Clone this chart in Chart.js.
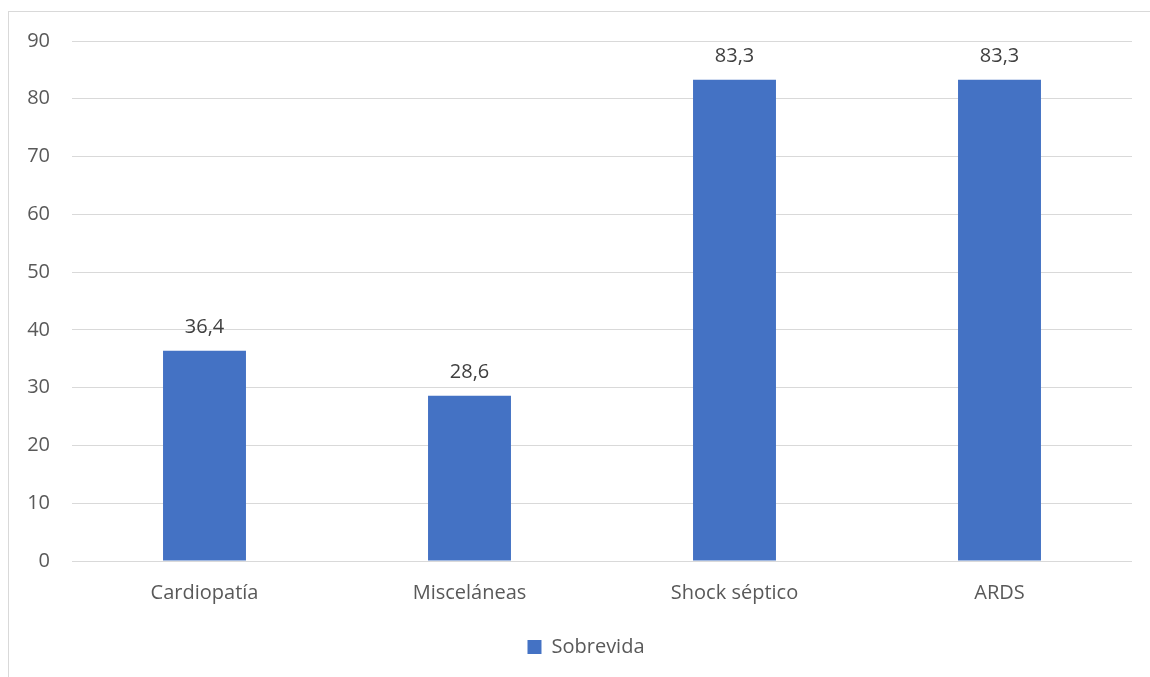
<!DOCTYPE html>
<html>
<head>
<meta charset="utf-8">
<script src="https://cdn.jsdelivr.net/npm/chart.js@4/dist/chart.umd.min.js"></script>
<style>
  html, body { margin: 0; padding: 0; background: #fff; }
  #wrap { position: relative; width: 1150px; height: 677px; overflow: hidden; }
  #frame { position: absolute; left: 8px; top: 11px; width: 1200px; height: 800px;
           border-left: 1px solid #d9d9d9; border-top: 1px solid #d9d9d9; }
  canvas { position: absolute; left: 0; top: 0; }
</style>
</head>
<body>
<div id="wrap">
  <div id="frame"></div>
  <canvas id="grafico" width="1150" height="677"></canvas>
</div>
<script>
const categorias = ["Cardiopatía", "Misceláneas", "Shock séptico", "ARDS"];
const sobrevida = [36.4, 28.6, 83.3, 83.3];
const serieNome = "Sobrevida";
const yMin = 0, yMax = 90, yPasso = 10;

const fonte = "'Open Sans', 'DejaVu Sans', sans-serif";

// rótulos com o valor em cima de cada barra
const rotulosBarras = {
  id: "rotulosBarras",
  afterLayout(chart) {
    // empurra a legenda um pouco pra direita
    chart.legend.left += 20;
    chart.legend.right += 20;
  },
  afterDatasetsDraw(chart) {
    const ctx = chart.ctx;
    ctx.save();
    ctx.font = "20px " + fonte;
    ctx.fillStyle = "#404040";
    ctx.textAlign = "center";
    ctx.textBaseline = "alphabetic";
    chart.getDatasetMeta(0).data.forEach((bar, i) => {
      const txt = sobrevida[i].toFixed(1).replace(".", ",");
      ctx.fillText(txt, bar.x, bar.y - 18);
    });
    ctx.restore();
  }
};

const ctx = document.getElementById("grafico").getContext("2d");
new Chart(ctx, {
  type: "bar",
  data: {
    labels: categorias,
    datasets: [{
      label: serieNome,
      data: sobrevida,
      backgroundColor: "#4472C4",
      borderWidth: 0,
      categoryPercentage: 1,
      barPercentage: 0.313
    }]
  },
  options: {
    responsive: false,
    animation: false,
    layout: { padding: { left: 0, right: 18, top: 41, bottom: 10 } },
    plugins: {
      tooltip: { enabled: false },
      legend: {
        position: "bottom",
        labels: {
          font: { family: fonte, size: 20 },
          color: "#595959",
          boxWidth: 14,
          boxHeight: 14,
          padding: 6
        }
      }
    },
    scales: {
      x: {
        grid: { display: false, drawTicks: false },
        border: { display: false },
        ticks: { font: { family: fonte, size: 20 }, color: "#595959", padding: 20 },
        afterFit(scale) { scale.height = 70; }
      },
      y: {
        min: yMin,
        max: yMax,
        grid: { color: "#d9d9d9", lineWidth: 1, drawTicks: false },
        border: { display: false },
        ticks: { stepSize: yPasso, font: { family: fonte, size: 20 }, color: "#595959", padding: 22 },
        afterFit(scale) { scale.width = 72; }
      }
    }
  },
  plugins: [rotulosBarras]
});
</script>
</body>
</html>
